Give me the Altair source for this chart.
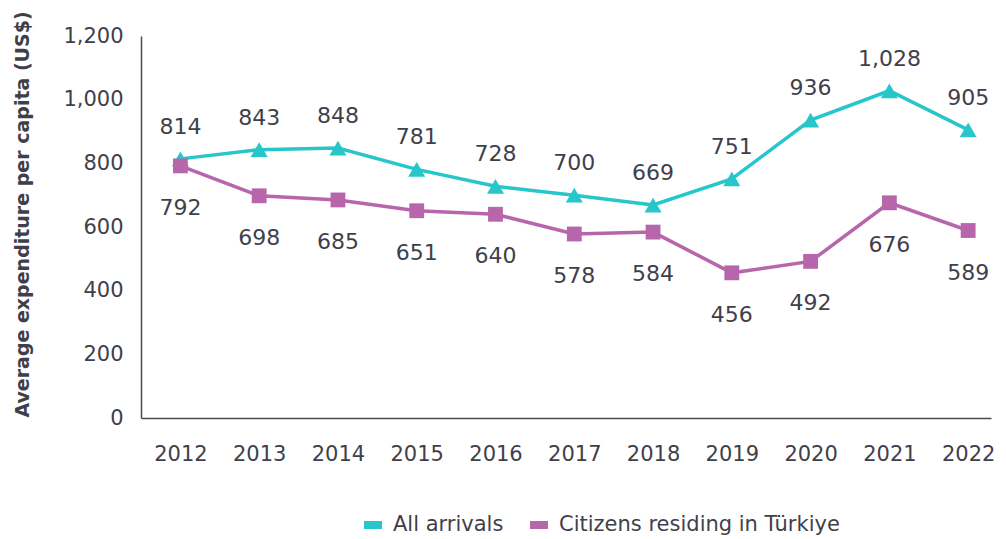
import altair as alt
import pandas as pd

years = list(range(2012, 2023))
all_arrivals = [814, 843, 848, 781, 728, 700, 669, 751, 936, 1028, 905]
citizens = [792, 698, 685, 651, 640, 578, 584, 456, 492, 676, 589]
series_names = ["All arrivals", "Citizens residing in Türkiye"]
colors = ["#26C6CB", "#B766AC"]
shapes = ["triangle-up", "square"]
marker_sizes = [290, 220]
y_ticks = [0, 200, 400, 600, 800, 1000, 1200]

df = pd.DataFrame({
    "year": years * 2,
    "value": all_arrivals + citizens,
    "series": [series_names[0]] * len(years) + [series_names[1]] * len(years),
})
df["label"] = df["value"].map(lambda v: f"{v:,}")

TEXT = "#3F3F4B"
FONT = "DejaVu Sans"

x = alt.X("year:Q",
          scale=alt.Scale(domain=[2011.5, 2022.29], nice=False, zero=False),
          axis=alt.Axis(values=years, format="d", title=None, grid=False, ticks=False,
                        labelPadding=25, labelFontSize=21, labelColor=TEXT,
                        domainColor="#4A4A55", domainWidth=1.5))
y = alt.Y("value:Q",
          scale=alt.Scale(domain=[0, 1200], nice=False),
          axis=alt.Axis(values=y_ticks, format=",d", title="Average expenditure per capita (US$)",
                        grid=False, ticks=False, labelPadding=18, labelFontSize=21,
                        labelColor=TEXT, titleFontSize=19, titleFontWeight="bold",
                        titleColor=TEXT, titlePadding=30, titleY=178,
                        domainColor="#4A4A55", domainWidth=1.5))

legend = alt.Legend(title=None, orient="none", legendX=219, legendY=476,
                    direction="horizontal",
                    symbolType="M-1,0H1", symbolSize=324,
                    symbolStrokeWidth=8, symbolOpacity=1, labelFontSize=21, labelColor=TEXT,
                    labelFont=FONT, columnPadding=10, labelOffset=7, labelLimit=500)

color_scale = alt.Scale(domain=series_names, range=colors)

base = alt.Chart(df).encode(x=x, y=y)

line = base.mark_line(strokeWidth=3.5).encode(
    color=alt.Color("series:N", scale=color_scale, legend=legend))

point_layers = [
    base.transform_filter(alt.datum.series == s).mark_point(
        filled=True, opacity=1, shape=shp, size=sz
    ).encode(fill=alt.Fill("series:N", scale=color_scale, legend=None))
    for s, shp, sz in zip(series_names, shapes, marker_sizes)
]

labels_top = base.transform_filter(alt.datum.series == series_names[0]).mark_text(
    dy=-32, fontSize=22, color=TEXT, baseline="middle").encode(text="label:N")
labels_bot = base.transform_filter(alt.datum.series == series_names[1]).mark_text(
    dy=42, fontSize=22, color=TEXT, baseline="middle").encode(text="label:N")

chart = alt.layer(line, *point_layers, labels_top, labels_bot).properties(
    width=850, height=382,
    padding={"left": 5, "top": 2, "right": 0, "bottom": 5},
).configure(font=FONT).configure_view(stroke=None)

chart.save("out.html", embed_options={"renderer": "svg", "actions": False})
